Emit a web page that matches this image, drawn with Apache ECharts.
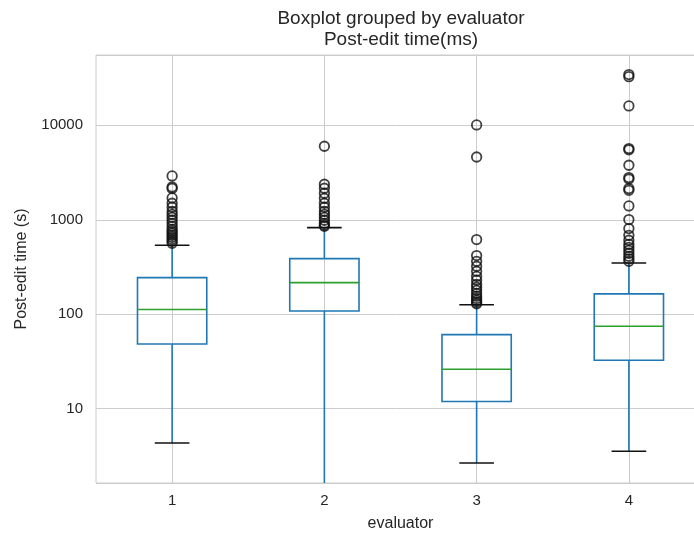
<!DOCTYPE html>
<html>
<head>
<meta charset="utf-8">
<title>Post-edit time by evaluator</title>
<script src="https://cdn.jsdelivr.net/npm/echarts@6/dist/echarts.min.js"></script>
<style>
  html, body { margin: 0; padding: 0; background: #fff; }
  #chart { width: 694px; height: 535px; }
</style>
</head>
<body>
<div id="chart"></div>
<script>
// Evaluators on the x axis
const categories = ['1', '2', '3', '4'];

// Box statistics per evaluator (post-edit time, seconds)
const whiskerLow  = [4.32, 1.0, 2.65, 3.53];
const quartile1   = [48.3, 108, 11.9, 32.5];
const medians     = [112, 216, 26.1, 74.5];
const quartile3   = [244, 388, 60.8, 164];
const whiskerHigh = [537, 826, 126, 349];

// Outliers above the upper whisker, per evaluator
const outliers1 = [2911, 2225, 2150, 1702, 1496, 1357, 1230, 1143, 1062, 988, 918, 853, 793, 755, 720, 685, 653, 621, 592, 564];
const outliers2 = [6010, 2377, 2156, 1909, 1690, 1496, 1357, 1230, 1143, 1062, 988, 918, 874, 853];
const outliers3 = [10100, 4624, 617, 418, 363, 322, 285, 252, 229, 207, 193, 179, 166, 155, 147, 140, 134, 129];
const outliers4 = [34500, 32800, 16060, 5680, 5500, 3778, 2800, 2700, 2142, 2050, 1400, 1005, 807, 685, 607, 550, 511, 475, 442, 410, 386, 363];

// Y axis decades that carry a label
const yTickLabels = ['10', '100', '1000', '10000'];

const BLUE = '#1f77b4';
const GREEN = '#2ca02c';
const CAP = '#111111';
const GRID = '#cccccc';
const TEXT = '#262626';
const FONT = '"Liberation Sans", Arial, sans-serif';

const boxData = categories.map((c, i) => [
  i, whiskerLow[i], quartile1[i], medians[i], quartile3[i], whiskerHigh[i]
]);

const outlierData = [];
[outliers1, outliers2, outliers3, outliers4].forEach((list, i) => {
  list.forEach(v => outlierData.push([i, v]));
});

function renderBox(params, api) {
  const i = api.value(0);
  const pLow = api.coord([i, api.value(1)]);
  const pQ1 = api.coord([i, api.value(2)]);
  const pMed = api.coord([i, api.value(3)]);
  const pQ3 = api.coord([i, api.value(4)]);
  const pHigh = api.coord([i, api.value(5)]);
  const band = api.size([1, 0])[0];
  const bw = band * 0.455;
  const cw = bw / 2;
  const x = pMed[0];
  const lineStyle = (color) => ({ stroke: color, lineWidth: 1.6, fill: null });
  return {
    type: 'group',
    children: [
      // lower whisker
      { type: 'line', shape: { x1: x, y1: pQ1[1], x2: x, y2: pLow[1] }, style: lineStyle(BLUE) },
      // upper whisker
      { type: 'line', shape: { x1: x, y1: pQ3[1], x2: x, y2: pHigh[1] }, style: lineStyle(BLUE) },
      // box
      { type: 'rect', shape: { x: x - bw / 2, y: pQ3[1], width: bw, height: pQ1[1] - pQ3[1] }, style: lineStyle(BLUE) },
      // median
      { type: 'line', shape: { x1: x - bw / 2, y1: pMed[1], x2: x + bw / 2, y2: pMed[1] }, style: lineStyle(GREEN) },
      // caps
      { type: 'line', shape: { x1: x - cw / 2, y1: pLow[1], x2: x + cw / 2, y2: pLow[1] }, style: lineStyle(CAP) },
      { type: 'line', shape: { x1: x - cw / 2, y1: pHigh[1], x2: x + cw / 2, y2: pHigh[1] }, style: lineStyle(CAP) }
    ]
  };
}

const chart = echarts.init(document.getElementById('chart'), null, { renderer: 'canvas' });

chart.setOption({
  animation: false,
  backgroundColor: '#ffffff',
  textStyle: { fontFamily: FONT },
  graphic: [
    { type: 'text', x: 401, y: 18.5, style: { text: 'Boxplot grouped by evaluator', textAlign: 'center', textVerticalAlign: 'middle', font: '19px ' + FONT, fill: TEXT } },
    { type: 'text', x: 401, y: 39.5, style: { text: 'Post-edit time(ms)', textAlign: 'center', textVerticalAlign: 'middle', font: '19px ' + FONT, fill: TEXT } }
  ],
  grid: {
    left: 96, top: 55, width: 609, height: 428,
    outerBoundsMode: 'none',
    containLabel: false,
    show: true, borderColor: GRID, borderWidth: 1, backgroundColor: '#fff'
  },
  xAxis: {
    type: 'category',
    data: categories,
    boundaryGap: true,
    name: 'evaluator',
    nameLocation: 'middle',
    nameGap: 33,
    nameTextStyle: { color: TEXT, fontSize: 16, fontFamily: FONT },
    axisLine: { show: false },
    axisTick: { show: false },
    axisLabel: { color: TEXT, fontSize: 15, fontFamily: FONT, margin: 10 },
    splitLine: { show: true, alignWithLabel: true, lineStyle: { color: GRID, width: 1 } }
  },
  yAxis: {
    type: 'log',
    logBase: 10,
    min: 1.63,
    max: 55600,
    name: 'Post-edit time (s)',
    nameLocation: 'middle',
    nameGap: 66,
    nameTextStyle: { color: TEXT, fontSize: 16, fontFamily: FONT },
    axisLine: { show: false },
    axisTick: { show: false },
    axisLabel: {
      color: TEXT, fontSize: 15, fontFamily: FONT, margin: 13,
      showMinLabel: false, showMaxLabel: false,
      formatter: (v) => {
        const s = String(Math.round(v));
        return yTickLabels.indexOf(s) >= 0 ? s : '';
      }
    },
    splitLine: { show: true, lineStyle: { color: GRID, width: 1 } }
  },
  series: [
    {
      type: 'custom',
      name: 'boxes',
      renderItem: renderBox,
      data: boxData,
      encode: { x: 0, y: [1, 2, 3, 4, 5] },
      clip: true,
      z: 2
    },
    {
      type: 'scatter',
      name: 'outliers',
      data: outlierData,
      symbol: 'circle',
      symbolSize: 9.5,
      itemStyle: { color: 'rgba(0,0,0,0)', borderColor: CAP, borderWidth: 1.8 },
      z: 3
    }
  ]
});
</script>
</body>
</html>
